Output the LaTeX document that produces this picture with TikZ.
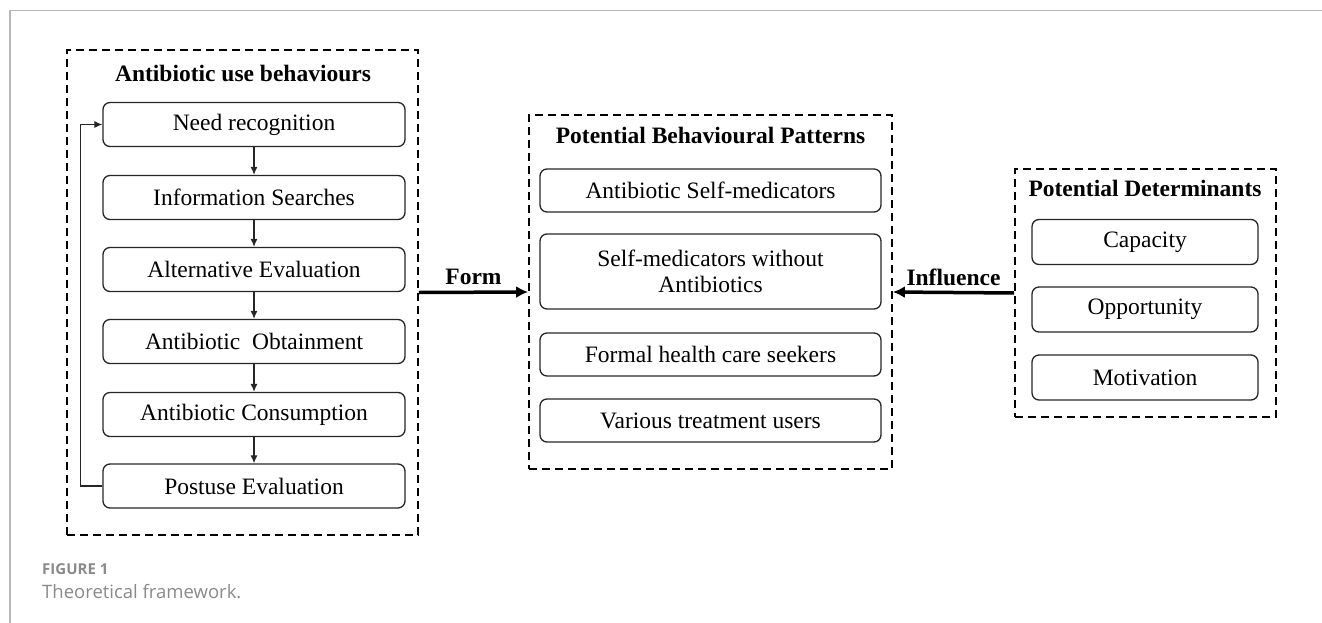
\documentclass[tikz,border=0pt]{standalone}
\usepackage{fontspec}
\setmainfont{Liberation Serif}
\newfontfamily\capfont{Open Sans}
\usetikzlibrary{arrows.meta}
\definecolor{framegrey}{HTML}{B8B8B8}
\definecolor{capgrey}{HTML}{8A8A8A}
\definecolor{ink}{HTML}{262626}
\begin{document}
\begin{tikzpicture}[x=1pt,y=-1pt,
  box/.style={draw=ink,line width=1.3pt,rounded corners=7pt,inner sep=0pt,align=center,
    font=\fontsize{23.5}{26}\selectfont},
  grp/.style={draw=black,line width=1.8pt,dash pattern=on 8pt off 5pt,inner sep=0pt},
  ttl/.style={font=\fontsize{23.5}{26}\selectfont\bfseries},
  smallarrow/.style={draw=ink,line width=1.2pt,-{Latex[length=8pt,width=7pt]}},
  bigarrow/.style={draw=black,line width=3.5pt,-{Latex[length=12pt,width=12pt]}}]
\useasboundingbox (0,0) rectangle (1322,623);
% frame
\draw[framegrey,line width=1.5pt] (10,623) -- (10,10.5) -- (1322,10.5);
% left group
\node[grp,minimum width=351pt,minimum height=485pt] (lg) at (242.5,292.5) {};
\node[ttl] (lt) at (243,73) {Antibiotic use behaviours};
\node[box,minimum width=302pt,minimum height=44pt] (b1) at (254,124.5) {Need recognition};
\node[box,minimum width=302pt,minimum height=44pt] (b2) at (254,197.5) {Information Searches};
\node[box,minimum width=302pt,minimum height=44pt] (b3) at (254,269.5) {Alternative Evaluation};
\node[box,minimum width=302pt,minimum height=44pt] (b4) at (254,341.5) {Antibiotic\ \ Obtainment};
\node[box,minimum width=302pt,minimum height=44pt] (b5) at (254,414.5) {Antibiotic Consumption};
\node[box,minimum width=302pt,minimum height=44pt] (b6) at (254,486) {Postuse Evaluation};
\draw[smallarrow] (b1) -- (b2);
\draw[smallarrow] (b2) -- (b3);
\draw[smallarrow] (b3) -- (b4);
\draw[smallarrow] (b4) -- (b5);
\draw[smallarrow] (b5) -- (b6);
\draw[smallarrow] (b6.west) -- ++(-22,0) |- (b1.west);
% middle group
\node[grp,minimum width=363pt,minimum height=354pt] (mg) at (710.5,292) {};
\node[ttl] (mt) at (710.5,135) {Potential Behavioural Patterns};
\node[box,minimum width=341pt,minimum height=43pt] (m1) at (710.5,190.5) {Antibiotic Self-medicators};
\node[box,minimum width=341pt,minimum height=75pt] (m2) at (710.5,271.5) {Self-medicators without\\Antibiotics};
\node[box,minimum width=341pt,minimum height=43pt] (m3) at (710.5,354.5) {Formal health care seekers};
\node[box,minimum width=341pt,minimum height=43pt] (m4) at (710.5,420.5) {Various treatment users};
% right group
\node[grp,minimum width=261pt,minimum height=248pt] (rg) at (1145.5,293) {};
\node[ttl] (rt) at (1145,188) {Potential Determinants};
\node[box,minimum width=226pt,minimum height=45pt] (r1) at (1145,242) {Capacity};
\node[box,minimum width=226pt,minimum height=45pt] (r2) at (1145,309.5) {Opportunity};
\node[box,minimum width=226pt,minimum height=45pt] (r3) at (1145,377.5) {Motivation};
% connecting arrows
\draw[bigarrow] (lg.east) -- node[ttl,midway,above=2pt] {Form} (mg.west);
\draw[bigarrow] (rg.west) -- node[ttl,midway,above=2pt] {Influence} (mg.east);
% caption
\node[anchor=base west,inner sep=0pt,text=capgrey,font=\capfont\bfseries\fontsize{15}{18}\selectfont] (cap1) at (42,574) {FIGURE 1};
\node[anchor=base west,inner sep=0pt,text=capgrey,font=\capfont\fontsize{18.5}{22}\selectfont] (cap2) at (42,598) {Theoretical framework.};
\end{tikzpicture}
\end{document}
